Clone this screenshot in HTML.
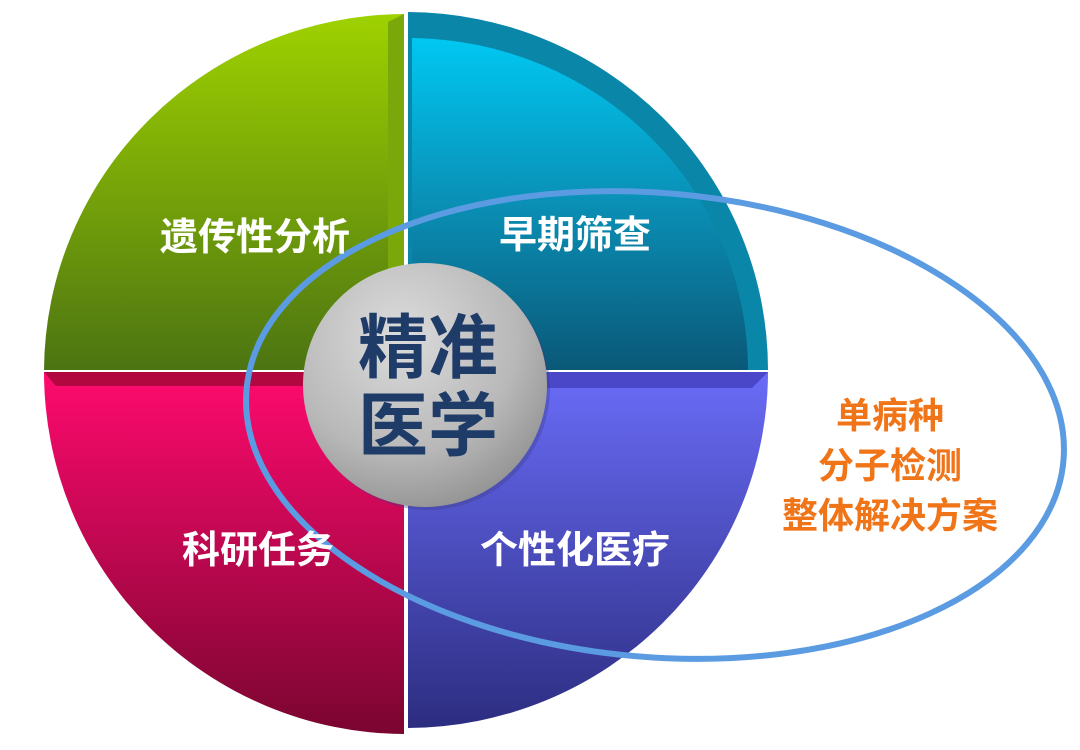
<!DOCTYPE html>
<html><head><meta charset="utf-8"><style>
html,body{margin:0;padding:0;background:#fff;width:1080px;height:750px;overflow:hidden}
text{font-family:"Liberation Sans","Noto Sans CJK SC",sans-serif;font-weight:bold}
</style></head><body>
<svg width="1080" height="750" viewBox="0 0 1080 750" xmlns="http://www.w3.org/2000/svg">
<defs>
<linearGradient id="g" x1="0" y1="0" x2="0" y2="1"><stop offset="0" stop-color="#9fd200"/><stop offset="1" stop-color="#4c7412"/></linearGradient>
<linearGradient id="c" x1="0" y1="0" x2="0" y2="1"><stop offset="0" stop-color="#00c8f2"/><stop offset="0.5" stop-color="#0a8fb5"/><stop offset="1" stop-color="#0a5878"/></linearGradient>
<linearGradient id="p" x1="0" y1="0" x2="0" y2="1"><stop offset="0" stop-color="#ff0a6e"/><stop offset="1" stop-color="#7a0530"/></linearGradient>
<linearGradient id="b" x1="0" y1="0" x2="0" y2="1"><stop offset="0" stop-color="#6a6cf8"/><stop offset="1" stop-color="#2c2d80"/></linearGradient>
<radialGradient id="gr" cx="0.4" cy="0.3" r="0.8"><stop offset="0" stop-color="#dcdcdc"/><stop offset="0.6" stop-color="#b8b8b8"/><stop offset="1" stop-color="#8a8a8a"/></radialGradient>
</defs>
<!-- green -->
<path d="M404,14 L404,370 L44,370 A362,358 0 0 1 404,14 Z" fill="url(#g)"/>
<path d="M388,22 L404,14 L404,370 L388,370 Z" fill="#7aa80a"/>
<!-- cyan -->
<path d="M408,12 L408,370 L768,370 A362,358 0 0 0 408,12 Z" fill="#0a86a8"/>
<path d="M412,38 L412,370 L748,370 A340,332 0 0 0 412,38 Z" fill="url(#c)"/>
<!-- pink -->
<path d="M44,372 L404,372 L404,734 A362,362 0 0 1 44,372 Z" fill="url(#p)"/>
<path d="M44,372 L404,372 L390,386 L56,386 Z" fill="#b0083f"/>
<!-- blue -->
<path d="M408,372 L768,372 A362,356 0 0 1 408,728 Z" fill="url(#b)"/>
<path d="M408,372 L768,372 L752,388 L420,388 Z" fill="#4a48c8"/>
<!-- center -->
<circle cx="428" cy="388" r="122" fill="#3a3f80" opacity="0.35"/>
<circle cx="425" cy="385" r="122" fill="url(#gr)"/>
<text x="428" y="372" font-size="70" fill="#1f3c68" text-anchor="middle">精准</text>
<text x="428" y="450" font-size="70" fill="#1f3c68" text-anchor="middle">医学</text>
<!-- ellipse -->
<ellipse cx="655" cy="425" rx="410" ry="232" transform="rotate(5 655 425)" fill="none" stroke="#5b9be2" stroke-width="6"/>
<!-- labels -->
<g font-size="38" fill="#fff" text-anchor="middle">
<text x="255" y="250">遗传性分析</text>
<text x="575" y="248">早期筛查</text>
<text x="258" y="563">科研任务</text>
<text x="575" y="563">个性化医疗</text>
</g>
<g font-size="36" fill="#f07418" text-anchor="middle">
<text x="890" y="428">单病种</text>
<text x="890" y="478">分子检测</text>
<text x="890" y="528">整体解决方案</text>
</g>
</svg>
</body></html>
